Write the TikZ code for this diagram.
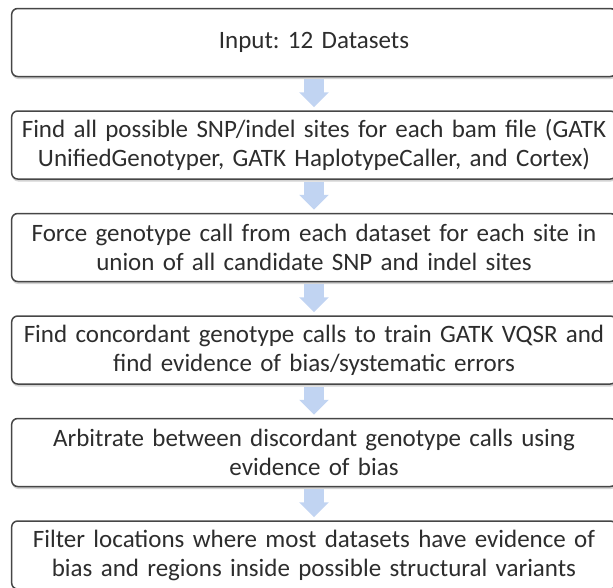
\documentclass[tikz,border=0pt]{standalone}
\usepackage{fontspec}
\setmainfont{Carlito}
\usetikzlibrary{positioning,shadows,arrows.meta}
\definecolor{boxline}{RGB}{70,70,70}
\definecolor{boxtext}{RGB}{45,45,45}
\definecolor{flowblue}{RGB}{193,212,242}
\tikzstyle{stage}=[draw=boxline, line width=1.5pt, rounded corners=6pt,
    fill=white, minimum width=604pt, minimum height=68pt, text width=598pt,
    align=center, text=boxtext, font=\frenchspacing\fontsize{25}{29}\selectfont,
    drop shadow={shadow xshift=0.5pt, shadow yshift=-2.5pt, opacity=0.35}]
\tikzstyle{flow}=[line width=20pt, draw=flowblue,
    -{Triangle[width=29pt,length=15pt]}, shorten <=2pt, shorten >=3pt]

\begin{document}
\begin{tikzpicture}[x=1pt,y=-1pt, node distance=33pt]
  \useasboundingbox (0,0) rectangle (613,587);
  \node[stage] at (314,42.5) (input) {Input: 12 Datasets};
  \node[stage, below=of input] (sites) {Find all possible SNP/indel sites for each bam file (GATK\\ UnifiedGenotyper, GATK HaplotypeCaller, and Cortex)};
  \node[stage, below=of sites] (force) {Force genotype call from each dataset for each site in\\ union of all candidate SNP and indel sites};
  \node[stage, below=of force] (vqsr) {Find concordant genotype calls to train GATK VQSR and\\ find evidence of bias/systematic errors};
  \node[stage, below=of vqsr] (arbit) {Arbitrate between discordant genotype calls using\\ evidence of bias};
  \node[stage, below=of arbit] (filt) {Filter locations where most datasets have evidence of\\ bias and regions inside possible structural variants};

  % block arrows between the stages
  \draw[flow] (input) -- (sites);
  \draw[flow] (sites) -- (force);
  \draw[flow] (force) -- (vqsr);
  \draw[flow] (vqsr) -- (arbit);
  \draw[flow] (arbit) -- (filt);
\end{tikzpicture}
\end{document}
